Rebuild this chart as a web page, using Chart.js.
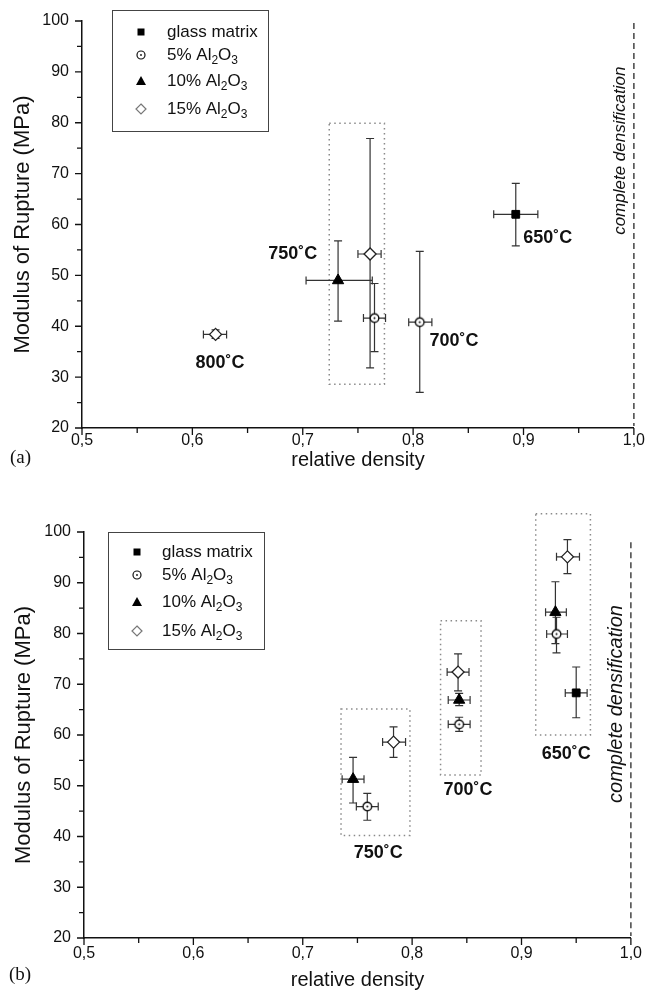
<!DOCTYPE html>
<html>
<head>
<meta charset="utf-8">
<script src="https://cdn.jsdelivr.net/npm/chart.js@4.4.1/dist/chart.umd.min.js"></script>
<style>
html, body { margin: 0; padding: 0; background: #fff; }
body { width: 650px; height: 990px; position: relative; overflow: hidden; }
canvas { position: absolute; left: 0; }
#chartA { top: 0; }
#chartB { top: 490px; }
.tag { position: absolute; font-family: "Liberation Serif", serif; font-size: 19px; line-height: 22px; color: #111; }
</style>
</head>
<body>
<canvas id="chartA" width="650" height="480"></canvas>
<canvas id="chartB" width="650" height="500"></canvas>
<div class="tag" style="left:10px; top:446px;">(a)</div>
<div class="tag" style="left:9px; top:963px;">(b)</div>
<script>
// series names, "_" marks the next char as subscript
const seriesNames = ['glass matrix', '5% Al_2O_3', '10% Al_2O_3', '15% Al_2O_3'];

// axis ticks
const xMajor = [0.5, 0.6, 0.7, 0.8, 0.9, 1.0];
const xMinor = [0.55, 0.65, 0.75, 0.85, 0.95];
const xLabels = ['0,5', '0,6', '0,7', '0,8', '0,9', '1,0'];
const yMajor = [20, 30, 40, 50, 60, 70, 80, 90, 100];
const yMinor = [25, 35, 45, 55, 65, 75, 85, 95];
const yLabels = ['20', '30', '40', '50', '60', '70', '80', '90', '100'];

const densX = 1.0;

// (a) relative density / MOR, with error ranges
const glassA = [
    { x: 0.893, y: 62.0, xMin: 0.873, xMax: 0.913, yMin: 55.8, yMax: 68.1 }
];
const al5A = [
    { x: 0.765, y: 41.6, xMin: 0.755, xMax: 0.775, yMin: 35.0, yMax: 48.4 },
    { x: 0.806, y: 40.8, xMin: 0.796, xMax: 0.817, yMin: 27.0, yMax: 54.7 }
];
const al10A = [
    { x: 0.732, y: 49.0, xMin: 0.703, xMax: 0.763, yMin: 41.0, yMax: 56.8 }
];
const al15A = [
    { x: 0.621, y: 38.4, xMin: 0.610, xMax: 0.631, yMin: 37.6, yMax: 39.3 },
    { x: 0.761, y: 54.2, xMin: 0.750, xMax: 0.771, yMin: 31.8, yMax: 76.9 }
];
const tempsA = [
    { text: '800˚C', x: 0.625, y: 32.7 },
    { text: '750˚C', x: 0.691, y: 54.1 },
    { text: '700˚C', x: 0.837, y: 37.1 },
    { text: '650˚C', x: 0.922, y: 57.3 }
];
const boxesA = [
    { xMin: 0.724, xMax: 0.774, yMin: 28.6, yMax: 79.9 }
];

// (b)
const glassB = [
    { x: 0.950, y: 68.3, xMin: 0.940, xMax: 0.960, yMin: 63.4, yMax: 73.4 }
];
const al5B = [
    { x: 0.759, y: 45.9, xMin: 0.749, xMax: 0.769, yMin: 43.2, yMax: 48.5 },
    { x: 0.843, y: 62.1, xMin: 0.833, xMax: 0.853, yMin: 60.7, yMax: 63.5 },
    { x: 0.932, y: 79.9, xMin: 0.923, xMax: 0.942, yMin: 76.2, yMax: 83.2 }
];
const al10B = [
    { x: 0.746, y: 51.3, xMin: 0.736, xMax: 0.756, yMin: 46.6, yMax: 55.6 },
    { x: 0.843, y: 66.9, xMin: 0.833, xMax: 0.853, yMin: 65.8, yMax: 68.2 },
    { x: 0.931, y: 84.2, xMin: 0.922, xMax: 0.941, yMin: 78.0, yMax: 90.2 }
];
const al15B = [
    { x: 0.783, y: 58.6, xMin: 0.773, xMax: 0.794, yMin: 55.6, yMax: 61.6 },
    { x: 0.842, y: 72.4, xMin: 0.832, xMax: 0.852, yMin: 68.7, yMax: 76.0 },
    { x: 0.942, y: 95.1, xMin: 0.932, xMax: 0.953, yMin: 91.8, yMax: 98.5 }
];
const tempsB = [
    { text: '750˚C', x: 0.769, y: 36.7 },
    { text: '700˚C', x: 0.851, y: 49.2 },
    { text: '650˚C', x: 0.941, y: 56.3 }
];
const boxesB = [
    { xMin: 0.735, xMax: 0.798, yMin: 40.2, yMax: 65.1 },
    { xMin: 0.826, xMax: 0.863, yMin: 52.1, yMax: 82.5 },
    { xMin: 0.913, xMax: 0.963, yMin: 60.0, yMax: 103.6 }
];

Chart.defaults.font.family = '"Liberation Sans", Arial, sans-serif';
Chart.defaults.color = '#111';

const FONT = '"Liberation Sans", Arial, sans-serif';

function near(list, v) {
    return list.findIndex(t => Math.abs(t - v) < 1e-6);
}

// open circle with a dot in the middle
function dotCircle(r) {
    const c = document.createElement('canvas');
    const s = Math.ceil(r * 2 + 4);
    c.width = s; c.height = s;
    const g = c.getContext('2d');
    g.beginPath();
    g.arc(s / 2, s / 2, r, 0, Math.PI * 2);
    g.fillStyle = '#fff';
    g.fill();
    g.lineWidth = 1.4;
    g.strokeStyle = '#111';
    g.stroke();
    g.beginPath();
    g.arc(s / 2, s / 2, 1, 0, Math.PI * 2);
    g.fillStyle = '#111';
    g.fill();
    return c;
}

function drawRich(ctx, str, x, y, size) {
    let cx = x;
    for (let i = 0; i < str.length; i++) {
        let ch = str[i], sub = false;
        if (ch === '_') { sub = true; ch = str[++i]; }
        ctx.font = (sub ? Math.round(size * 0.7) : size) + 'px ' + FONT;
        ctx.fillText(ch, cx, sub ? y + size * 0.35 : y);
        cx += ctx.measureText(ch).width;
    }
}

function legendSymbol(ctx, k, x, y) {
    ctx.save();
    ctx.lineWidth = 1.2;
    if (k === 0) {
        ctx.fillStyle = '#000';
        ctx.fillRect(x - 3.5, y - 3.5, 7, 7);
    } else if (k === 1) {
        ctx.beginPath();
        ctx.arc(x, y, 4, 0, Math.PI * 2);
        ctx.strokeStyle = '#111';
        ctx.stroke();
        ctx.beginPath();
        ctx.arc(x, y, 0.9, 0, Math.PI * 2);
        ctx.fillStyle = '#111';
        ctx.fill();
    } else if (k === 2) {
        ctx.beginPath();
        ctx.moveTo(x, y - 5);
        ctx.lineTo(x + 5, y + 4);
        ctx.lineTo(x - 5, y + 4);
        ctx.closePath();
        ctx.fillStyle = '#000';
        ctx.fill();
    } else {
        ctx.beginPath();
        ctx.moveTo(x, y - 5);
        ctx.lineTo(x + 5, y);
        ctx.lineTo(x, y + 5);
        ctx.lineTo(x - 5, y);
        ctx.closePath();
        ctx.strokeStyle = '#777';
        ctx.stroke();
    }
    ctx.restore();
}

function extras(d) {
    return {
        id: 'extras',
        beforeDatasetsDraw(chart) {
            const { ctx, scales: { x: xs, y: ys }, chartArea } = chart;
            ctx.save();

            // dotted group boxes
            ctx.strokeStyle = '#8a8a8a';
            ctx.lineWidth = 1.5;
            ctx.setLineDash([1.5, 3.5]);
            d.boxes.forEach(b => {
                const x0 = xs.getPixelForValue(b.xMin), x1 = xs.getPixelForValue(b.xMax);
                const y0 = ys.getPixelForValue(b.yMax), y1 = ys.getPixelForValue(b.yMin);
                ctx.strokeRect(x0, y0, x1 - x0, y1 - y0);
            });

            // complete densification line
            const lx = xs.getPixelForValue(densX);
            ctx.strokeStyle = '#444';
            ctx.lineWidth = 1.5;
            ctx.setLineDash([6, 4]);
            ctx.beginPath();
            ctx.moveTo(lx, ys.getPixelForValue(d.densTop));
            ctx.lineTo(lx, chartArea.bottom - 2);
            ctx.stroke();
            ctx.setLineDash([]);

            // error bars
            ctx.strokeStyle = '#333';
            ctx.lineWidth = 1.2;
            chart.data.datasets.forEach(ds => {
                ds.data.forEach(p => {
                    const x = xs.getPixelForValue(p.x), y = ys.getPixelForValue(p.y);
                    const x0 = xs.getPixelForValue(p.xMin), x1 = xs.getPixelForValue(p.xMax);
                    const y0 = ys.getPixelForValue(p.yMin), y1 = ys.getPixelForValue(p.yMax);
                    const c = 4;
                    ctx.beginPath();
                    ctx.moveTo(x0, y); ctx.lineTo(x1, y);
                    ctx.moveTo(x0, y - c); ctx.lineTo(x0, y + c);
                    ctx.moveTo(x1, y - c); ctx.lineTo(x1, y + c);
                    ctx.moveTo(x, y0); ctx.lineTo(x, y1);
                    ctx.moveTo(x - c, y0); ctx.lineTo(x + c, y0);
                    ctx.moveTo(x - c, y1); ctx.lineTo(x + c, y1);
                    ctx.stroke();
                });
            });
            ctx.restore();
        },
        afterDraw(chart) {
            const { ctx, scales: { x: xs, y: ys }, chartArea } = chart;
            ctx.save();

            // tick marks, outward, minor shorter
            ctx.strokeStyle = '#111';
            ctx.lineWidth = 1.3;
            ctx.beginPath();
            xMajor.concat(xMinor).forEach(v => {
                const px = xs.getPixelForValue(v);
                const len = near(xMajor, v) >= 0 ? 7 : 5;
                ctx.moveTo(px, chartArea.bottom);
                ctx.lineTo(px, chartArea.bottom + len);
            });
            yMajor.concat(yMinor).forEach(v => {
                const py = ys.getPixelForValue(v);
                const len = near(yMajor, v) >= 0 ? 7 : 5;
                ctx.moveTo(chartArea.left, py);
                ctx.lineTo(chartArea.left - len, py);
            });
            ctx.stroke();

            // temperature labels
            ctx.fillStyle = '#111';
            ctx.font = 'bold 18px ' + FONT;
            ctx.textAlign = 'center';
            ctx.textBaseline = 'middle';
            d.temps.forEach(t => {
                ctx.fillText(t.text, xs.getPixelForValue(t.x), ys.getPixelForValue(t.y));
            });

            // vertical caption
            ctx.save();
            ctx.translate(xs.getPixelForValue(densX) - 14, ys.getPixelForValue(d.densTextY));
            ctx.rotate(-Math.PI / 2);
            ctx.font = 'italic ' + d.densFont + 'px ' + FONT;
            ctx.fillText('complete densification', 0, 0);
            ctx.restore();

            // legend
            const L = d.legend;
            ctx.strokeStyle = '#444';
            ctx.lineWidth = 1;
            ctx.strokeRect(L.x + 0.5, L.y + 0.5, L.w, L.h);
            ctx.textAlign = 'left';
            seriesNames.forEach((name, k) => {
                legendSymbol(ctx, k, L.symX, L.rows[k]);
                drawRich(ctx, name, L.textX, L.rows[k], 17);
            });
            ctx.restore();
        }
    };
}

function buildChart(id, d) {
    const scaleX = {
        type: 'linear',
        min: 0.5,
        max: 1.0,
        afterBuildTicks: s => { s.ticks = xMajor.map(v => ({ value: v })); },
        afterFit: s => { s.height = 52; },
        grid: { drawOnChartArea: false, drawTicks: false },
        border: { color: '#111', width: 1.5 },
        ticks: {
            padding: d.xTickPad,
            font: { size: 16, lineHeight: 1 },
            maxRotation: 0,
            autoSkip: false,
            callback: v => { const i = near(xMajor, v); return i >= 0 ? xLabels[i] : ''; }
        },
        title: {
            display: true,
            text: 'relative density',
            font: { size: 20, lineHeight: 1 },
            padding: { top: 0, bottom: d.xTitlePad }
        }
    };
    const scaleY = {
        type: 'linear',
        min: 20,
        max: 100,
        afterBuildTicks: s => { s.ticks = yMajor.map(v => ({ value: v })); },
        afterFit: s => { s.width = d.yWidth; },
        grid: { drawOnChartArea: false, drawTicks: false },
        border: { color: '#111', width: 1.5 },
        ticks: {
            padding: 13,
            font: { size: 16, lineHeight: 1 },
            callback: v => { const i = near(yMajor, v); return i >= 0 ? yLabels[i] : ''; }
        },
        title: {
            display: true,
            text: 'Modulus of Rupture (MPa)',
            font: { size: 22, lineHeight: 1 },
            padding: { top: d.yTitlePad, bottom: 0 }
        }
    };
    return new Chart(document.getElementById(id), {
        type: 'scatter',
        data: {
            datasets: [
                { label: seriesNames[0], data: d.glass, pointStyle: 'rect', pointRadius: 5.5,
                  backgroundColor: '#000', borderColor: '#000', borderWidth: 1 },
                { label: seriesNames[1], data: d.al5, pointStyle: dotCircle(4.3), pointRadius: 5 },
                { label: seriesNames[2], data: d.al10, pointStyle: 'triangle', pointRadius: 6.5,
                  backgroundColor: '#000', borderColor: '#000', borderWidth: 1 },
                { label: seriesNames[3], data: d.al15, pointStyle: 'rectRot', pointRadius: 6,
                  backgroundColor: '#fff', borderColor: '#222', borderWidth: 1.3 }
            ]
        },
        options: {
            responsive: false,
            animation: false,
            layout: { padding: d.pad },
            plugins: { legend: { display: false }, tooltip: { enabled: false } },
            scales: { x: scaleX, y: scaleY }
        },
        plugins: [extras(d)]
    });
}

buildChart('chartA', {
    glass: glassA, al5: al5A, al10: al10A, al15: al15A,
    temps: tempsA, boxes: boxesA,
    pad: { top: 20, right: 13, left: 0, bottom: 0 },
    yWidth: 82, xTickPad: 5, xTitlePad: 10, yTitlePad: 12,
    densTop: 99.6, densTextY: 74.5, densFont: 17,
    legend: { x: 112, y: 10, w: 156, h: 121, symX: 141, textX: 167, rows: [32, 55, 81, 109] }
});

buildChart('chartB', {
    glass: glassB, al5: al5B, al10: al10B, al15: al15B,
    temps: tempsB, boxes: boxesB,
    pad: { top: 42, right: 11, left: 0, bottom: 0 },
    yWidth: 84, xTickPad: 8, xTitlePad: 0, yTitlePad: 13,
    densTop: 98.0, densTextY: 66.1, densFont: 20,
    legend: { x: 108, y: 42, w: 156, h: 117, symX: 137, textX: 162, rows: [62, 85, 112, 141] }
});
</script>
</body>
</html>
